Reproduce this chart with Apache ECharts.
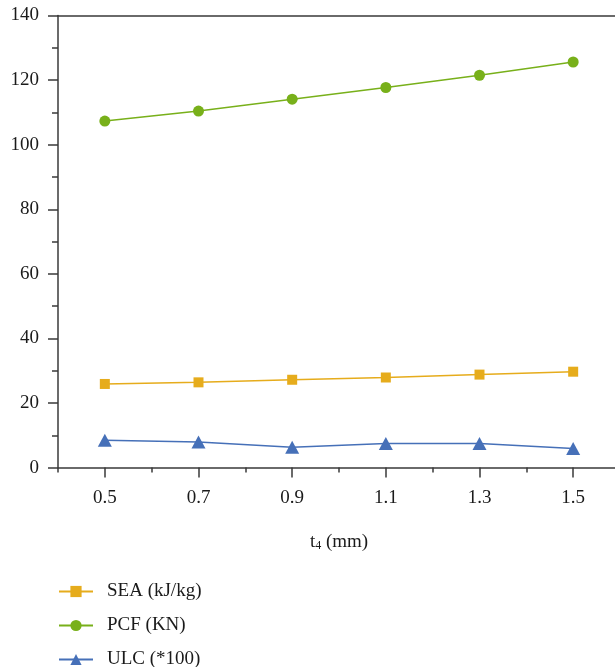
<!DOCTYPE html>
<html>
<head>
<meta charset="utf-8">
<script src="https://cdn.jsdelivr.net/npm/echarts@6/dist/echarts.min.js"></script>
<style>
  html, body { margin: 0; padding: 0; background: #fff; }
  #main { width: 615px; height: 667px; }
</style>
</head>
<body>
<div id="main"></div>
<script>
var categories = ['0.5', '0.7', '0.9', '1.1', '1.3', '1.5'];
var seaData = [25.9, 26.4, 27.2, 27.9, 28.8, 29.7];
var pcfData = [107.3, 110.4, 114.1, 117.7, 121.5, 125.6];
var ulcData = [8.5, 7.9, 6.3, 7.5, 7.5, 5.9];
var seriesNames = ['SEA (kJ/kg)', 'PCF (KN)', 'ULC (*100)'];

var font = '"Liberation Serif", "DejaVu Serif", serif';
var axisColor = '#3a3a3a';

var chart = echarts.init(document.getElementById('main'));

var option = {
  backgroundColor: '#ffffff',
  animation: false,
  grid: {
    left: 58,
    width: 562,
    top: 15.5,
    bottom: 199.4,
    outerBoundsMode: 'none'
  },
  legend: {
    orient: 'vertical',
    left: 58,
    top: 582,
    height: 120,
    padding: 0,
    itemWidth: 34,
    itemHeight: 14,
    itemGap: 15,
    textStyle: {
      color: '#1a1a1a',
      fontFamily: font,
      fontSize: 19,
      lineHeight: 14,
      padding: [0, 0, 0, 9]
    },
    data: seriesNames
  },
  xAxis: [
    {
      type: 'category',
      data: categories,
      boundaryGap: true,
      position: 'bottom',
      name: '{a|t}{s|4}{a| (mm)}',
      nameLocation: 'middle',
      nameGap: 64,
      nameTextStyle: {
        rich: {
          a: { fontFamily: font, fontSize: 19, color: '#1a1a1a' },
          s: { fontFamily: font, fontSize: 12, color: '#1a1a1a', verticalAlign: 'bottom', padding: [8, 0, 0, 0] }
        }
      },
      axisLine: { lineStyle: { color: axisColor, width: 1.5 } },
      axisTick: { show: true, alignWithLabel: true, length: 10, lineStyle: { color: axisColor, width: 1.5 } },
      axisLabel: { margin: 21, color: '#1a1a1a', fontFamily: font, fontSize: 19 },
      splitLine: { show: false }
    },
    {
      // minor ticks between the categories
      type: 'value',
      min: 0.4,
      max: 1.6,
      interval: 0.2,
      position: 'bottom',
      axisLine: { show: false },
      axisTick: { show: true, length: 5, lineStyle: { color: axisColor, width: 1.5 } },
      axisLabel: { show: false },
      splitLine: { show: false }
    },
    {
      // top frame line
      type: 'value',
      min: 0,
      max: 1,
      position: 'top',
      axisLine: { show: true, lineStyle: { color: axisColor, width: 1.5 } },
      axisTick: { show: false },
      axisLabel: { show: false },
      splitLine: { show: false }
    }
  ],
  yAxis: {
    type: 'value',
    min: 0,
    max: 140,
    interval: 20,
    axisLine: { show: true, lineStyle: { color: axisColor, width: 1.5 } },
    axisTick: { show: true, length: 10, lineStyle: { color: axisColor, width: 1.5 } },
    minorTick: { show: true, splitNumber: 2, length: 6, lineStyle: { color: axisColor, width: 1.5 } },
    axisLabel: { margin: 19, color: '#1a1a1a', fontFamily: font, fontSize: 19 },
    splitLine: { show: false }
  },
  series: [
    {
      name: seriesNames[0],
      type: 'line',
      xAxisIndex: 0,
      data: seaData,
      symbol: 'rect',
      symbolSize: 10,
      lineStyle: { color: '#e6ac1c', width: 1.5 },
      itemStyle: { color: '#e6ac1c' }
    },
    {
      name: seriesNames[1],
      type: 'line',
      xAxisIndex: 0,
      data: pcfData,
      symbol: 'circle',
      symbolSize: 11,
      lineStyle: { color: '#78b01a', width: 1.5 },
      itemStyle: { color: '#78b01a' }
    },
    {
      name: seriesNames[2],
      type: 'line',
      xAxisIndex: 0,
      data: ulcData,
      symbol: 'triangle',
      symbolSize: [14, 13],
      lineStyle: { color: '#4670b8', width: 1.5 },
      itemStyle: { color: '#4670b8' }
    }
  ]
};

chart.setOption(option);
</script>
</body>
</html>
